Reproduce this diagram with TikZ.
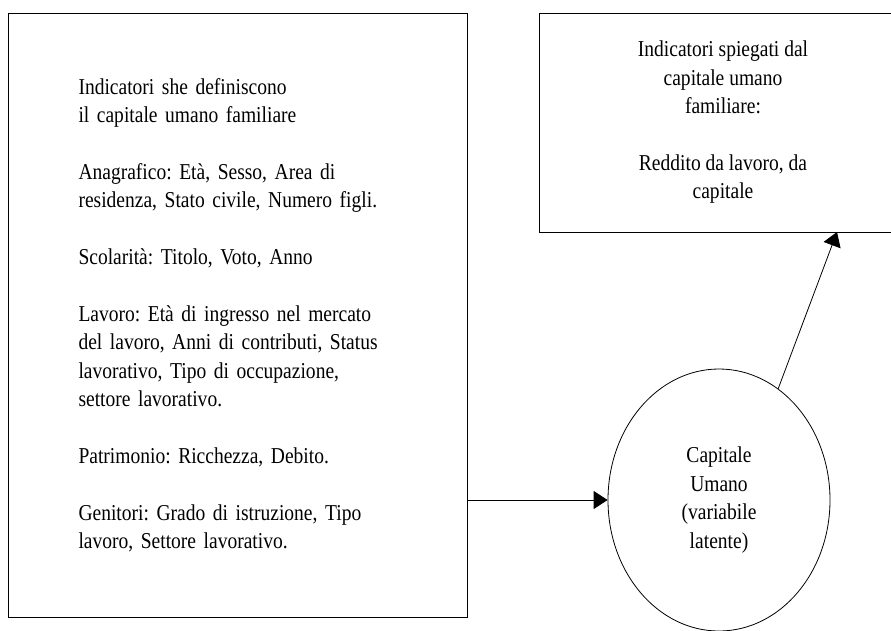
\documentclass[tikz,border=0pt]{standalone}
\usepackage{fontspec}
\setmainfont{Liberation Serif}[FakeStretch=0.86]
\usetikzlibrary{arrows.meta, shapes.geometric}
\tikzstyle{box} = [draw, rectangle, line width=1pt, inner sep=0pt]
\tikzstyle{latent} = [draw, ellipse, line width=0.8pt, inner sep=0pt, minimum width=222pt, minimum height=262pt, align=center]
\tikzstyle{link} = [line width=0.8pt, -{Triangle[length=14pt, width=18pt]}]

\begin{document}
\frenchspacing
\begin{tikzpicture}[x=1pt, y=-1pt, font=\fontsize{22.7}{28.4}\selectfont]
    \useasboundingbox (0,0) rectangle (891,630);
    \clip (0,0) rectangle (891,630);
    \node (ind) [box, minimum width=459pt, minimum height=604pt, text width=318pt, align=left] at (237.5,315) {%
        Indicatori she definiscono\\
        il capitale umano familiare\\[28.4pt]
        Anagrafico: Età, Sesso, Area di\\
        residenza, Stato civile, Numero figli.\\[28.4pt]
        Scolarità: Titolo, Voto, Anno\\[28.4pt]
        Lavoro: Età di ingresso nel mercato\\
        del lavoro, Anni di contributi, Status\\
        lavorativo, Tipo di occupazione,\\
        settore lavorativo.\\[28.4pt]
        Patrimonio: Ricchezza, Debito.\\[28.4pt]
        Genitori: Grado di istruzione, Tipo\\
        lavoro, Settore lavorativo.};
    \node (out) [box, minimum width=368pt, minimum height=219pt, align=center] at (723,122.5) {%
        Indicatori spiegati dal\\
        capitale umano\\
        familiare:\\[28.4pt]
        Reddito da lavoro, da\\
        capitale};
    \node (cap) [latent] at (719,500) {Capitale\\ Umano\\ (variabile\\ latente)};
    \coordinate (hit) at (837,232);
    \draw [link] (ind.east |- cap.west) -- (cap.west);
    \draw [link] (cap.62) -- (hit);
\end{tikzpicture}
\end{document}
